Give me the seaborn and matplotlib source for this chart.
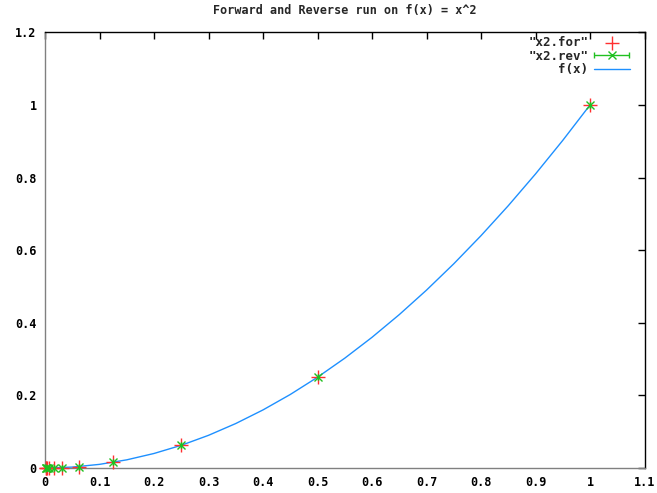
import matplotlib
matplotlib.use("Agg")
import matplotlib.pyplot as plt
from matplotlib.legend_handler import HandlerErrorbar
import seaborn as sns
import pandas as pd

# data
x_for = [1.0, 0.5, 0.25, 0.125, 0.0625, 0.03125, 0.015625, 0.0078125, 0.00390625, 0.001953125, 0.0009765625]
y_for = [1.0, 0.25, 0.0625, 0.015625, 0.00390625, 0.0009765625, 0.000244, 0.000061, 0.0000153, 0.0000038, 0.00000095]
x_rev = [1.0, 0.5, 0.25, 0.125, 0.0625, 0.03125, 0.015625, 0.0078125, 0.00390625, 0.001953125, 0.0009765625]
y_rev = [1.0, 0.25, 0.0625, 0.015625, 0.00390625, 0.0009765625, 0.000244, 0.000061, 0.0000153, 0.0000038, 0.00000095]
x_err = [0.0, 0.0, 0.0, 0.0, 0.0, 0.0, 0.0, 0.0, 0.0, 0.0, 0.0]
x_f = [0.0, 0.05, 0.1, 0.15, 0.2, 0.25, 0.3, 0.35, 0.4, 0.45, 0.5, 0.55, 0.6, 0.65, 0.7, 0.75, 0.8, 0.85, 0.9, 0.95, 1.0]
y_f = [0.0, 0.0025, 0.01, 0.0225, 0.04, 0.0625, 0.09, 0.1225, 0.16, 0.2025, 0.25, 0.3025, 0.36, 0.4225, 0.49, 0.5625, 0.64, 0.7225, 0.81, 0.9025, 1.0]
x_ticks = [0, 0.1, 0.2, 0.3, 0.4, 0.5, 0.6, 0.7, 0.8, 0.9, 1, 1.1]
x_ticklabels = ["0", "0.1", "0.2", "0.3", "0.4", "0.5", "0.6", "0.7", "0.8", "0.9", "1", "1.1"]
y_ticks = [0, 0.2, 0.4, 0.6, 0.8, 1, 1.2]
y_ticklabels = ["0", "0.2", "0.4", "0.6", "0.8", "1", "1.2"]
title = "Forward and Reverse run on f(x) = x^2"

sns.set_style("white")
plt.rcParams['font.family'] = ['DejaVu Sans Mono']
plt.rcParams['font.weight'] = 'bold'

fig = plt.figure(figsize=(6.57, 4.93), dpi=100)
ax = fig.add_axes([45/657, 1-468/493, (644.5-45)/657, (468-32.4)/493])

red = "#ff3030"
green = "#20c020"
blue = "#1e90ff"

df_f = pd.DataFrame({"x": x_f, "y": y_f})
sns.lineplot(data=df_f, x="x", y="y", ax=ax, color=blue, lw=1.0, label="f(x)", zorder=2)

df_for = pd.DataFrame({"x": x_for, "y": y_for})
sns.scatterplot(data=df_for, x="x", y="y", ax=ax, marker="+", s=100, color=red,
                linewidth=1.0, label='"x2.for"', zorder=3, clip_on=False)
eb = ax.errorbar(x_rev, y_rev, xerr=x_err, fmt="x", color=green, ms=6, mew=1.0,
                 elinewidth=1.0, capsize=2.5, label='"x2.rev"', zorder=4, clip_on=False)

ax.set_xlim(0, 1.1)
ax.set_ylim(0, 1.2)
ax.set_xticks(x_ticks)
ax.set_xticklabels(x_ticklabels)
ax.set_yticks(y_ticks)
ax.set_yticklabels(y_ticklabels)
ax.tick_params(direction="in", length=5, width=1, top=True, right=True,
               labelsize=8.5, pad=6, colors="black")
for lab in ax.get_xticklabels() + ax.get_yticklabels():
    lab.set_fontweight("bold")
ax.set_xlabel("")
ax.set_ylabel("")
for s in ax.spines.values():
    s.set_color("black")
    s.set_linewidth(1.0)
    s.set_visible(True)
ax.spines["left"].set_color("#808080")
ax.spines["bottom"].set_color("#808080")

ax.set_title(title, fontsize=8.5, fontweight="bold", pad=13)

handles, labels = ax.get_legend_handles_labels()
if ax.get_legend() is not None:
    ax.get_legend().remove()
order = ['"x2.for"', '"x2.rev"', 'f(x)']
hmap = dict(zip(labels, handles))
leg = ax.legend([hmap[k] for k in order], order, loc="upper right",
                bbox_to_anchor=(630/657, 1-36/493), bbox_transform=fig.transFigure,
                frameon=False, markerfirst=False, fontsize=9, handlelength=2.9,
                labelspacing=0.05, borderaxespad=0, borderpad=0, handletextpad=0.45,
                handler_map={type(hmap['"x2.rev"']): HandlerErrorbar(xerr_size=1.4)})
for t in leg.get_texts():
    t.set_fontweight("bold")

fig.savefig("out.png", dpi=100)
